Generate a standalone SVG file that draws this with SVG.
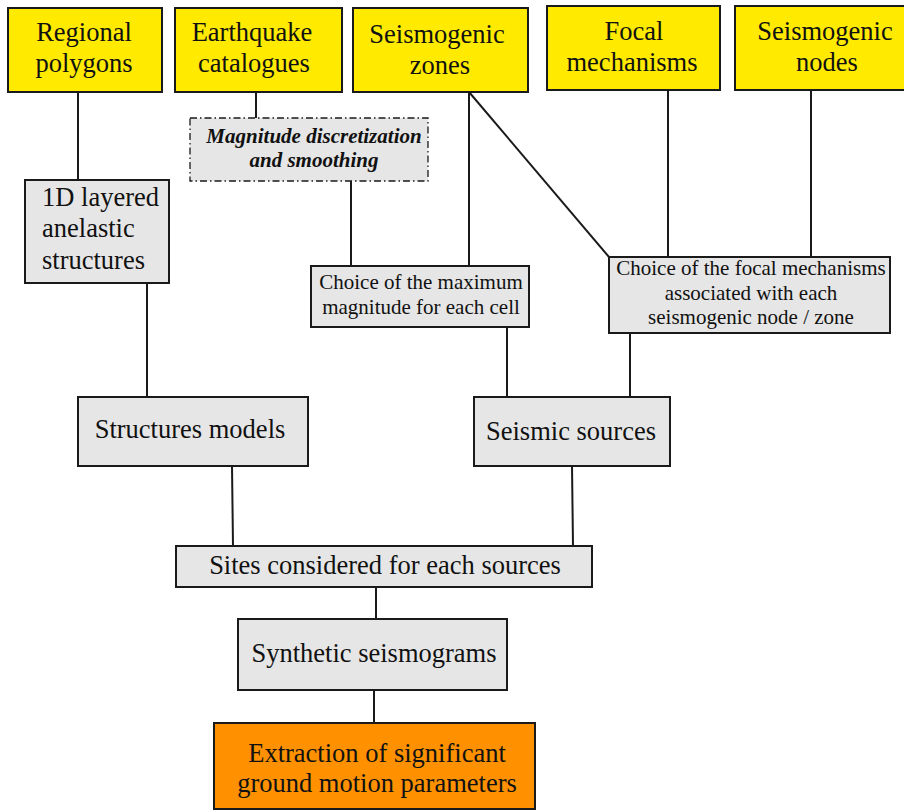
<svg xmlns="http://www.w3.org/2000/svg" width="904" height="810" viewBox="0 0 904 810">
<style>
rect{stroke:#1a1a1a;stroke-width:2}
.y{fill:#ffea00}
.g{fill:#e6e6e6}
.o{fill:#ff9100}
.d{fill:#e6e6e6;stroke-width:1.3;stroke-dasharray:7 3 1.5 3}
text{font-family:'Liberation Serif','Times New Roman',serif;fill:#111;text-anchor:middle}
.t25{font-size:26.5px}
.t18{font-size:21px}
.bi{font-size:21px;font-weight:bold;font-style:italic}
.l{text-anchor:start}
#connectors line{stroke:#1a1a1a;stroke-width:2}
</style>
<rect width="904" height="810" fill="#fff" style="stroke:none"/>
<g id="connectors">
<line x1="78" y1="92" x2="78" y2="180"/>
<line x1="256" y1="92" x2="256" y2="118"/>
<line x1="351" y1="181" x2="351" y2="266"/>
<line x1="469" y1="92" x2="469" y2="266"/>
<line x1="469" y1="92" x2="609" y2="257"/>
<line x1="668" y1="90" x2="668" y2="257"/>
<line x1="811" y1="90" x2="811" y2="257"/>
<line x1="147" y1="283" x2="147" y2="397"/>
<line x1="507" y1="327" x2="507" y2="397"/>
<line x1="630" y1="333" x2="630" y2="397"/>
<line x1="232" y1="466" x2="233" y2="546"/>
<line x1="572" y1="466" x2="573" y2="546"/>
<line x1="376" y1="587" x2="376" y2="619"/>
<line x1="374" y1="690" x2="374" y2="723"/>
</g>
<g id="regional-polygons">
<rect class="y" x="8" y="8" width="154" height="84"/>
<text class="t25" x="84" y="41">Regional</text>
<text class="t25" x="84" y="72">polygons</text>
</g>
<g id="earthquake-catalogues">
<rect class="y" x="175" y="8" width="167" height="84"/>
<text class="t25" x="252" y="41">Earthquake</text>
<text class="t25" x="254" y="72">catalogues</text>
</g>
<g id="seismogenic-zones">
<rect class="y" x="353" y="8" width="175" height="84"/>
<text class="t25" x="437" y="43">Seismogenic</text>
<text class="t25" x="440" y="74">zones</text>
</g>
<g id="focal-mechanisms">
<rect class="y" x="547" y="6" width="173" height="84"/>
<text class="t25" x="634" y="40">Focal</text>
<text class="t25" x="632" y="71">mechanisms</text>
</g>
<g id="seismogenic-nodes">
<rect class="y" x="735" y="6" width="175" height="84"/>
<text class="t25" x="825" y="40">Seismogenic</text>
<text class="t25" x="827" y="71">nodes</text>
</g>
<g id="magnitude-discretization">
<rect class="d" x="190" y="118" width="238" height="63"/>
<text class="bi" x="314" y="143">Magnitude discretization</text>
<text class="bi" x="314" y="167">and smoothing</text>
</g>
<g id="layered-structures">
<rect class="g" x="25" y="180" width="144" height="103"/>
<text class="t25 l" x="42" y="206">1D layered</text>
<text class="t25 l" x="42" y="237">anelastic</text>
<text class="t25 l" x="42" y="269">structures</text>
</g>
<g id="choice-max-magnitude">
<rect class="g" x="311" y="266" width="218" height="61"/>
<text class="t18" x="421" y="289">Choice of the maximum</text>
<text class="t18" x="421" y="314">magnitude for each cell</text>
</g>
<g id="choice-focal-mechanisms">
<rect class="g" x="609" y="257" width="281" height="76"/>
<text class="t18" x="751" y="275">Choice of the focal mechanisms</text>
<text class="t18" x="751" y="300">associated with each</text>
<text class="t18" x="751" y="324">seismogenic node / zone</text>
</g>
<g id="structures-models">
<rect class="g" x="78" y="397" width="230" height="69"/>
<text class="t25" x="190" y="438">Structures models</text>
</g>
<g id="seismic-sources">
<rect class="g" x="474" y="397" width="196" height="69"/>
<text class="t25" x="571" y="440">Seismic sources</text>
</g>
<g id="sites">
<rect class="g" x="176" y="546" width="416" height="41"/>
<text class="t25" x="385" y="574">Sites considered for each sources</text>
</g>
<g id="synthetic-seismograms">
<rect class="g" x="238" y="619" width="269" height="71"/>
<text class="t25" x="374" y="662">Synthetic seismograms</text>
</g>
<g id="extraction">
<rect class="o" x="214" y="723" width="321" height="86"/>
<text class="t25" x="377" y="762">Extraction of significant</text>
<text class="t25" x="377" y="792">ground motion parameters</text>
</g>
</svg>
